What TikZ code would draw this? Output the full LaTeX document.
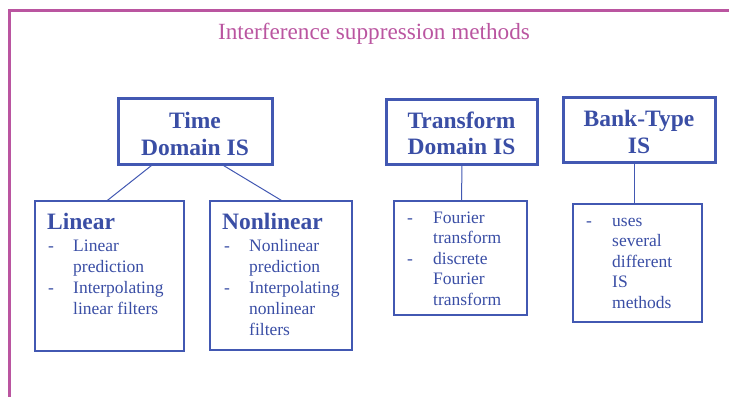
\documentclass[tikz,border=0pt]{standalone}
\usepackage{fontspec}
\setmainfont{Liberation Serif}
\usetikzlibrary{calc}
\definecolor{framemag}{RGB}{186,85,160}
\definecolor{boxblue}{RGB}{66,88,178}
\definecolor{textblue}{RGB}{58,78,165}
\tikzset{
  headbox/.style={draw=boxblue, line width=3pt, inner sep=0pt},
  headtext/.style={anchor=base, text=textblue, inner sep=0pt,
    font=\fontsize{23.5}{26.5}\selectfont\bfseries},
  subbox/.style={draw=boxblue, line width=1.2pt, inner sep=0pt},
  link/.style={draw=boxblue, line width=1pt},
  subhead/.style={anchor=base west, text=textblue, inner sep=0pt,
    font=\fontsize{23.5}{26}\selectfont\bfseries},
  item/.style={anchor=base west, text=textblue, inner sep=0pt,
    font=\fontsize{17.5}{21}\selectfont},
  dashmark/.style={anchor=base west, text=textblue, inner sep=0pt,
    font=\fontsize{17.5}{21}\selectfont}
}
\begin{document}
\begin{tikzpicture}[x=1pt, y=-1pt]
\useasboundingbox (0,0) rectangle (729,397);

% outer frame: top and left edges
\coordinate (fc) at (9,10.5);
\draw[framemag, line width=3pt] (729,10.5) -- (fc) -- (9,397);
\node[anchor=base, text=framemag, inner sep=0pt,
      font=\fontsize{23.2}{26}\selectfont] (title) at (374,39)
      {Interference suppression methods};

% top-level method boxes
\node[headbox, minimum width=154pt, minimum height=66pt] (time) at (195,131) {};
\node[headtext] (timeA) at (195,128) {Time};
\node[headtext] (timeB) at (195,155) {Domain IS};

\node[headbox, minimum width=151pt, minimum height=65pt] (trans) at (461.5,131.5) {};
\node[headtext] (transA) at (461.5,128) {Transform};
\node[headtext] (transB) at (461.5,154.5) {Domain IS};

\node[headbox, minimum width=152pt, minimum height=65pt] (bank) at (639,129.5) {};
\node[headtext] (bankA) at (639,126) {Bank-Type};
\node[headtext] (bankB) at (639,153) {IS};

% detail boxes
\node[subbox, minimum width=149pt, minimum height=150pt] (lin) at (109.5,276) {};
\node[subbox, minimum width=142pt, minimum height=149pt] (nonlin) at (281,275.5) {};
\node[subbox, minimum width=133pt, minimum height=114pt] (transsub) at (460.5,258) {};
\node[subbox, minimum width=129pt, minimum height=118pt] (banksub) at (637.5,263) {};

% connectors
\draw[link] ([xshift=35pt]time.south west) -- ([xshift=73pt]lin.north west);
\draw[link] ([xshift=107pt]time.south west) -- ([xshift=72pt]nonlin.north west);
\draw[link] ([xshift=0.5pt]trans.south) -- (trans.south |- transsub.north);
\draw[link] ([xshift=-5pt]bank.south) -- ([xshift=-5pt]bank.south |- banksub.north);

% linear
\node[subhead] (linh) at (47,229) {Linear};
\node[dashmark] (lind1) at (48,251) {-};
\node[item] (lint1) at (73,251) {Linear};
\node[item] (lint2) at (73,272) {prediction};
\node[dashmark] (lind2) at (48,293) {-};
\node[item] (lint3) at (73,293) {Interpolating};
\node[item] (lint4) at (73,314) {linear filters};

% nonlinear
\node[subhead] (nonh) at (222,229) {Nonlinear};
\node[dashmark] (nond1) at (224,251) {-};
\node[item] (nont1) at (249,251) {Nonlinear};
\node[item] (nont2) at (249,272) {prediction};
\node[dashmark] (nond2) at (224,293) {-};
\node[item] (nont3) at (249,293) {Interpolating};
\node[item] (nont4) at (249,314) {nonlinear};
\node[item] (nont5) at (249,335) {filters};

% transform domain
\node[dashmark] (trd1) at (407,223) {-};
\node[item] (trt1) at (433,223) {Fourier};
\node[item] (trt2) at (433,243.5) {transform};
\node[dashmark] (trd2) at (407,264) {-};
\node[item] (trt3) at (433,264) {discrete};
\node[item] (trt4) at (433,284.5) {Fourier};
\node[item] (trt5) at (433,305) {transform};

% bank-type
\node[dashmark] (bkd1) at (586,226) {-};
\node[item] (bkt1) at (612,226) {uses};
\node[item] (bkt2) at (612,246.5) {several};
\node[item] (bkt3) at (612,267) {different};
\node[item] (bkt4) at (612,287.5) {IS};
\node[item] (bkt5) at (612,308) {methods};
\end{tikzpicture}
\end{document}
